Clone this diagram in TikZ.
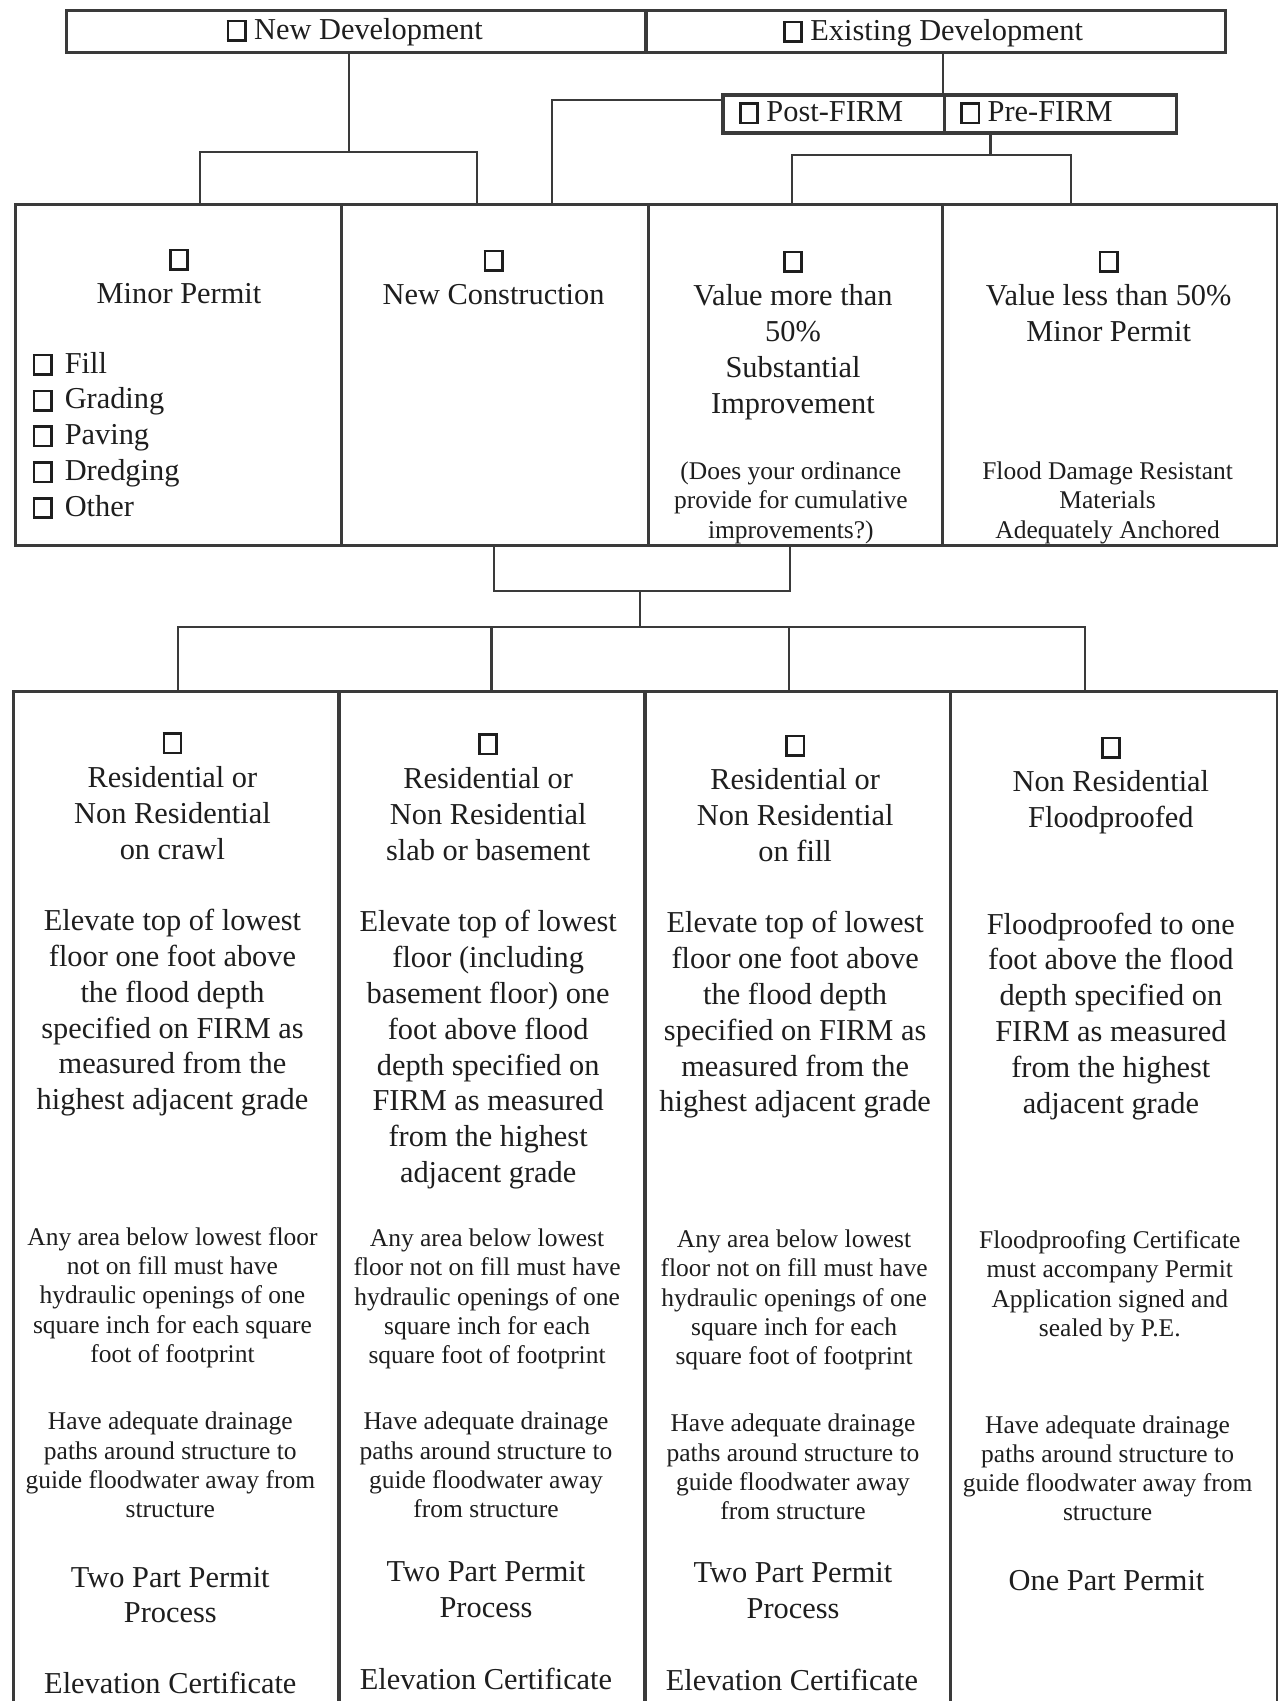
\documentclass[tikz,border=0pt]{standalone}
\usepackage{fontspec}
\setmainfont{Liberation Serif}
\definecolor{ink}{HTML}{1E1E1E}
\definecolor{rulec}{HTML}{3A3A3A}
\newcommand\chk{{\color{ink}\setlength\fboxsep{0pt}\setlength\fboxrule{2.4pt}\fbox{\rule{0pt}{15.5pt}\rule{13.5pt}{0pt}}}}
\newcommand\bigtxt{\fontsize{28}{33}\selectfont}
\newcommand\smtxt{\fontsize{23.5}{27}\selectfont}
\newcommand\blk[1]{\begin{tabular}[t]{@{}c@{}}#1\end{tabular}}
\newcommand\lblk[1]{\begin{tabular}[t]{@{}l@{}}#1\end{tabular}}
\tikzset{
  box/.style={draw=rulec, line width=3pt, inner sep=0pt, anchor=north west},
  txt/.style={anchor=base, inner sep=0pt, text=ink},
  conn/.style={draw=rulec, line width=2pt}
}
\begin{document}
\begin{tikzpicture}[x=1pt,y=-1pt]
\useasboundingbox (0,0) rectangle (1178,1568);
\fill[white] (0,0) rectangle (1178,1568);

% ---------- boxes ----------
\node[box, minimum width=534pt, minimum height=39pt] (newdev) at (60,8) {};
\node[box, minimum width=534pt, minimum height=39pt] (exdev) at (594,8) {};
\node[box, minimum width=204pt, minimum height=35pt] (post) at (665,86) {};
\node[box, minimum width=214pt, minimum height=35pt] (pre) at (869,86) {};

\node[box, minimum width=300pt, minimum height=314pt] (r1a) at (13,187) {};
\node[box, minimum width=283pt, minimum height=314pt] (r1b) at (313,187) {};
\node[box, minimum width=271pt, minimum height=314pt] (r1c) at (596,187) {};
\node[box, minimum width=309pt, minimum height=314pt] (r1d) at (867,187) {};

\node[box, minimum width=300pt, minimum height=960pt] (r2a) at (11,636) {};
\node[box, minimum width=282pt, minimum height=960pt] (r2b) at (311,636) {};
\node[box, minimum width=282pt, minimum height=960pt] (r2c) at (593,636) {};
\node[box, minimum width=301pt, minimum height=960pt] (r2d) at (875,636) {};

% ---------- junctions ----------
\coordinate (j1) at (322,140);
\coordinate (j1L) at (184,140);
\coordinate (j1R) at (440,140);
\coordinate (j2) at (509,92);
\coordinate (j3) at (913,143);
\coordinate (j3L) at (730,143);
\coordinate (j3R) at (987,143);
\coordinate (j4L) at (455,545);
\coordinate (j4R) at (728,545);
\coordinate (j5) at (590,545);
\coordinate (j6) at (590,578);
\coordinate (j6L) at (164,578);
\coordinate (j6a) at (453,578);
\coordinate (j6b) at (727,578);
\coordinate (j6R) at (1000,578);

% ---------- connectors ----------
\draw[conn] (newdev.south -| j1) -- (j1);
\draw[conn] (j1L |- r1a.north) -- (j1L) -- (j1R) -- (j1R |- r1b.north);
\draw[conn] (exdev.south -| pre.west) -- (pre.north west);
\draw[conn] (post.west |- j2) -- (j2) -- (j2 |- r1b.north);
\draw[conn] (pre.south -| j3) -- (j3);
\draw[conn] (j3L |- r1c.north) -- (j3L) -- (j3R) -- (j3R |- r1d.north);
\draw[conn] (r1b.south -| j4L) -- (j4L) -- (j4R) -- (r1c.south -| j4R);
\draw[conn] (j5) -- (j6);
\draw[conn] (j6L |- r2a.north) -- (j6L) -- (j6R) -- (j6R |- r2d.north);
\draw[conn] (j6a) -- (j6a |- r2b.north);
\draw[conn] (j6b) -- (j6b |- r2c.north);

% ---------- top texts ----------
\node[txt] (tnew) at (327,36) {\bigtxt\chk\ New Development};
\node[txt] (tex) at (860,37) {\bigtxt\chk\ Existing Development};
\node[txt, anchor=base west] (tpost) at (681,112) {\bigtxt\chk\ Post-FIRM};
\node[txt, anchor=base west] (tpre) at (885,112) {\bigtxt\chk\ Pre-FIRM};

% ---------- row 1 texts ----------
\node[txt] (a1h) at (165,247) {\bigtxt\blk{\chk\\Minor Permit}};
\node[txt, anchor=base west] (a1l) at (30,344) {\bigtxt\lblk{\chk\hspace{0.4em}Fill\\\chk\hspace{0.4em}Grading\\\chk\hspace{0.4em}Paving\\\chk\hspace{0.4em}Dredging\\\chk\hspace{0.4em}Other}};
\node[txt] (b1h) at (455,248) {\bigtxt\blk{\chk\\New Construction}};
\node[txt] (c1h) at (731,249) {\bigtxt\blk{\chk\\Value more than\\50\%\\Substantial\\Improvement}};
\node[txt] (c1s) at (729,442) {\smtxt\blk{(Does your ordinance\\provide for cumulative\\improvements?)}};
\node[txt] (d1h) at (1022,249) {\bigtxt\blk{\chk\\Value less than 50\%\\Minor Permit}};
\node[txt] (d1s) at (1021,442) {\smtxt\blk{Flood Damage Resistant\\Materials\\Adequately Anchored}};

% ---------- row 2 texts ----------
% column 1
\node[txt] (a2h) at (159,693) {\bigtxt\blk{\chk\\Residential or\\Non Residential\\on crawl}};
\node[txt] (a2e) at (159,858) {\bigtxt\blk{Elevate top of lowest\\floor one foot above\\the flood depth\\specified on FIRM as\\measured from the\\highest adjacent grade}};
\node[txt] (a2s) at (159,1148) {\smtxt\blk{Any area below lowest floor\\not on fill must have\\hydraulic openings of one\\square inch for each square\\foot of footprint}};
\node[txt] (a2d) at (157,1318) {\smtxt\blk{Have adequate drainage\\paths around structure to\\guide floodwater away from\\structure}};
\node[txt] (a2p) at (157,1463) {\bigtxt\blk{Two Part Permit\\Process}};
\node[txt] (a2c) at (157,1561) {\bigtxt Elevation Certificate};
% column 2
\node[txt] (b2h) at (450,694) {\bigtxt\blk{\chk\\Residential or\\Non Residential\\slab or basement}};
\node[txt] (b2e) at (450,859) {\bigtxt\blk{Elevate top of lowest\\floor (including\\basement floor) one\\foot above flood\\depth specified on\\FIRM as measured\\from the highest\\adjacent grade}};
\node[txt] (b2s) at (449,1149) {\smtxt\blk{Any area below lowest\\floor not on fill must have\\hydraulic openings of one\\square inch for each\\square foot of footprint}};
\node[txt] (b2d) at (448,1318) {\smtxt\blk{Have adequate drainage\\paths around structure to\\guide floodwater away\\from structure}};
\node[txt] (b2p) at (448,1458) {\bigtxt\blk{Two Part Permit\\Process}};
\node[txt] (b2c) at (448,1557) {\bigtxt Elevation Certificate};
% column 3
\node[txt] (c2h) at (733,695) {\bigtxt\blk{\chk\\Residential or\\Non Residential\\on fill}};
\node[txt] (c2e) at (733,860) {\bigtxt\blk{Elevate top of lowest\\floor one foot above\\the flood depth\\specified on FIRM as\\measured from the\\highest adjacent grade}};
\node[txt] (c2s) at (732,1150) {\smtxt\blk{Any area below lowest\\floor not on fill must have\\hydraulic openings of one\\square inch for each\\square foot of footprint}};
\node[txt] (c2d) at (731,1320) {\smtxt\blk{Have adequate drainage\\paths around structure to\\guide floodwater away\\from structure}};
\node[txt] (c2p) at (731,1459) {\bigtxt\blk{Two Part Permit\\Process}};
\node[txt] (c2c) at (730,1558) {\bigtxt Elevation Certificate};
% column 4
\node[txt] (d2h) at (1024,697) {\bigtxt\blk{\chk\\Non Residential\\Floodproofed}};
\node[txt] (d2e) at (1024,861) {\bigtxt\blk{Floodproofed to one\\foot above the flood\\depth specified on\\FIRM as measured\\from the highest\\adjacent grade}};
\node[txt] (d2s) at (1023,1151) {\smtxt\blk{Floodproofing Certificate\\must accompany Permit\\Application signed and\\sealed by P.E.}};
\node[txt] (d2d) at (1021,1321) {\smtxt\blk{Have adequate drainage\\paths around structure to\\guide floodwater away from\\structure}};
\node[txt] (d2p) at (1020,1466) {\bigtxt One Part Permit};
\end{tikzpicture}
\end{document}
